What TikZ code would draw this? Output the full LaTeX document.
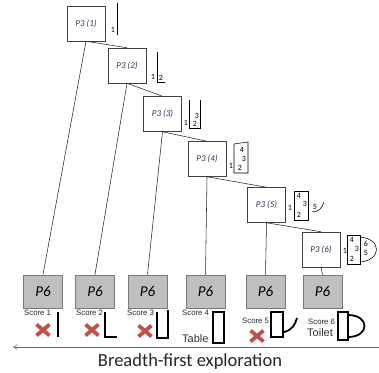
\documentclass[tikz,border=0pt]{standalone}
\usepackage{fontspec}
\setmainfont{Carlito}
\newfontfamily\arialf{Liberation Sans}
\usetikzlibrary{arrows.meta}
\definecolor{lbl}{RGB}{45,50,85}
\definecolor{crossred}{RGB}{192,80,77}
\definecolor{boxgray}{RGB}{191,191,191}
\definecolor{boxedge}{RGB}{120,120,120}
\begin{document}
\begin{tikzpicture}[x=1pt,y=-1pt,
  p3box/.style={draw=black!75, line width=0.5pt, minimum width=38pt, minimum height=35pt, inner sep=0pt,
     font=\fontsize{9}{9}\selectfont\itshape, text=lbl},
  p6box/.style={draw=boxedge, fill=boxgray, line width=0.8pt, minimum width=39pt, minimum height=33pt, inner sep=0pt,
     font=\fontsize{15}{15}\selectfont\itshape},
  conn/.style={draw=black!85, line width=0.55pt},
  num/.style={inner sep=0pt, font=\fontsize{8}{8}\selectfont},
  side/.style={draw=black, line width=0.55pt},
  thick shape/.style={draw=black, line width=1.8pt},
  score/.style={inner sep=0pt, anchor=west, font=\arialf\fontsize{7.8}{8}\selectfont, text=black!85},
  objlbl/.style={inner sep=0pt, anchor=west, font=\arialf\fontsize{11}{11}\selectfont, text=black!80},
  xmark/.style={draw=crossred, line width=3.8pt}
]
\useasboundingbox (0,0) rectangle (379,372);

% P3 nodes
\node[p3box] (p1) at (86,23.5) {P3 (1)};
\node[p3box] (p2) at (127,65.5) {P3 (2)};
\node[p3box] (p3) at (162.5,114) {P3 (3)};
\node[p3box] (p4) at (207,159) {P3 (4)};
\node[p3box] (p5) at (266.5,205) {P3 (5)};
\node[p3box] (p6) at (321,249.5) {P3 (6)};

% P6 nodes
\node[p6box] (g1) at (43,291.5) {P6};
\node[p6box] (g2) at (95,291.5) {P6};
\node[p6box] (g3) at (147.5,291.5) {P6};
\node[p6box] (g4) at (205.5,291.5) {P6};
\node[p6box] (g5) at (265.5,291.5) {P6};
\node[p6box] (g6) at (322.5,291.5) {P6};

% connectors
\draw[conn] (p1.south) -- (g1.north);
\draw[conn] (p1.south) -- (p2.north);
\draw[conn] (p2.south) -- (g2.north);
\draw[conn] (p2.south) -- (p3.north);
\draw[conn] (p3.south) -- (g3.north);
\draw[conn] (p3.south) -- (p4.north);
\draw[conn] (p4.south) -- (g4.north);
\draw[conn] (p4.south) -- (p5.north);
\draw[conn] (p5.south) -- (g5.north);
\draw[conn] (p5.south) -- (p6.north);
\draw[conn] (p6.south) -- (g6.north);

% side sketches
\draw[side] (117,3) -- (117,35);
\node[num] (n11) at (113,30) {1};

\draw[side] (157,52) -- (157,82) -- (165,82);
\node[num] (n21) at (153,77) {1};
\node[num] (n22) at (161,78) {2};

\draw[side] (189,100) -- (189,128) -- (200,128) -- (200,100);
\node[num] (n31) at (186,123) {1};
\node[num] (n32) at (195,124) {2};
\node[num] (n33) at (197,116) {3};

\draw[side] (234,144) -- (248,142) -- (248,173) -- (234,173) -- cycle;
\node[num] (n41) at (231,166) {1};
\node[num] (n42) at (240,168) {2};
\node[num] (n43) at (244,159) {3};
\node[num] (n44) at (242,150) {4};

\draw[side] (294,191) rectangle (308,220);
\node[num] (n51) at (290,208) {1};
\node[num] (n52) at (299,215) {2};
\node[num] (n53) at (305,204) {3};
\node[num] (n54) at (299,196) {4};
\node[num] (n55) at (315,207) {5};
\draw[side] (312,212) .. controls (319,212) and (322,208) .. (324,202);

\draw[side] (347,235) rectangle (360,264);
\node[num] (n61) at (345,251) {1};
\node[num] (n62) at (352,259) {2};
\node[num] (n63) at (357,249) {3};
\node[num] (n64) at (352,240) {4};
\node[num] (n65) at (366,253) {5};
\node[num] (n66) at (366,244) {6};
\draw[side] (360,237) .. controls (382,239) and (382,260) .. (360,262);

% scores
\node[score] (s1) at (24,313) {Score 1};
\node[score] (s2) at (76,313) {Score 2};
\node[score] (s3) at (127,313) {Score 3};
\node[score] (s4) at (182,313) {Score 4};
\node[score] (s5) at (242,321) {Score 5};
\node[score] (s6) at (308,322) {Score 6};
\node[objlbl] (t4) at (182,339) {Table};
\node[objlbl] (t6) at (307,333) {Toilet};

% crosses
\foreach \cx/\cy in {43/330, 92/330, 145/331, 257/336}{
  \draw[xmark] (\cx-6.5,\cy-5.5) -- (\cx+6.5,\cy+5.5);
  \draw[xmark] (\cx-6.5,\cy+5.5) -- (\cx+6.5,\cy-5.5);
}

% thick shapes
\draw[thick shape] (58,312) -- (58,337);
\draw[thick shape] (105,312) -- (105,337) -- (117,337);
\draw[thick shape] (157,312) -- (157,338) -- (168,338) -- (168,310);
\draw[thick shape] (213,312) rectangle (224,343);
\draw[thick shape] (271,312) rectangle (283,337);
\draw[thick shape] (284,332) .. controls (292,330) and (295,325) .. (297,318);
\draw[thick shape] (338,312) rectangle (348,340);
\draw[thick shape] (348,315) .. controls (370,315) and (370,337) .. (348,337);

% exploration arrow
\coordinate (ae) at (379,347);
\coordinate (as) at (13,347);
\draw[draw=black!60, line width=0.5pt, -{Straight Barb[length=4pt,width=5pt]}] (ae) -- (as);
\node[inner sep=0pt, font=\fontsize{18.5}{19}\selectfont, text=black!85] (cap) at (190,362) {Breadth-first exploration};
\end{tikzpicture}
\end{document}
